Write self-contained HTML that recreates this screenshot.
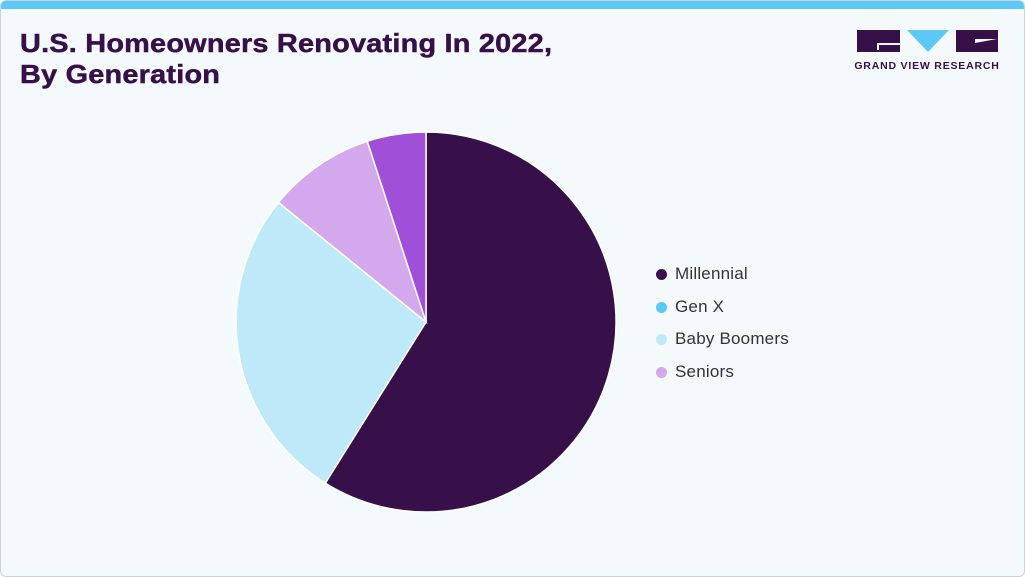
<!DOCTYPE html>
<html><head><meta charset="utf-8"><style>
body{margin:0;width:1025px;height:577px;overflow:hidden;background:#fff;font-family:"Liberation Sans",sans-serif}
.card{position:absolute;left:0;top:0;width:1023px;height:575px;background:#f4f9fc;border:1px solid #c9d3da;border-radius:6px;overflow:hidden}
.bar{position:absolute;left:0;top:0;width:100%;height:8px;background:#5bc8f5}
h1{position:absolute;left:19px;top:27px;margin:0;font-size:26px;line-height:31px;color:#37104a;font-weight:bold;letter-spacing:0.2px;transform:scaleX(1.11);transform-origin:0 0;-webkit-text-stroke:0.5px #37104a;white-space:nowrap}
.lg{position:absolute;left:655px;font-size:17px;color:#333;letter-spacing:0.2px}
.lg i{display:inline-block;width:11px;height:11px;border-radius:50%;margin-right:8px;vertical-align:-1px}
</style></head><body><div class="card"><div class="bar"></div>
<h1>U.S. Homeowners Renovating In 2022,<br>By Generation</h1>
<svg style="position:absolute;left:0;top:0" width="1025" height="577">
<rect x="856" y="29" width="43" height="22" fill="#37104a"/>
<path d="M876 42h23v2h-21v5h-2z" fill="#f4f9fc"/>
<polygon points="906,29 948,29 927,51" fill="#5bc8f5"/>
<rect x="955" y="29" width="42" height="22" fill="#37104a"/>
<path d="M974 38h22l-22 4z" fill="#f4f9fc"/>
<text x="926" y="68" font-size="10.5" font-weight="bold" fill="#37104a" text-anchor="middle" letter-spacing="0.8" font-family="Liberation Sans">GRAND VIEW RESEARCH</text>
<g stroke="#fff" stroke-width="1.5" transform="translate(-1,-1)">
<path d="M426 322L426 132A190 190 0 1 1 325.3 483.1Z" fill="#37104a"/>
<path d="M426 322L325.3 483.1A190 190 0 0 1 278.4 202.5Z" fill="#bde9f8"/>
<path d="M426 322L278.4 202.5A190 190 0 0 1 367.3 141.3Z" fill="#d3a8ec"/>
<path d="M426 322L367.3 141.3A190 190 0 0 1 426 132Z" fill="#a04fd8"/>
</g></svg>
<div class="lg" style="top:263px"><i style="background:#37104a"></i>Millennial</div>
<div class="lg" style="top:296px"><i style="background:#5bc8f5"></i>Gen X</div>
<div class="lg" style="top:328px"><i style="background:#bde9f8"></i>Baby Boomers</div>
<div class="lg" style="top:361px"><i style="background:#d3a8ec"></i>Seniors</div>
</div></body></html>
